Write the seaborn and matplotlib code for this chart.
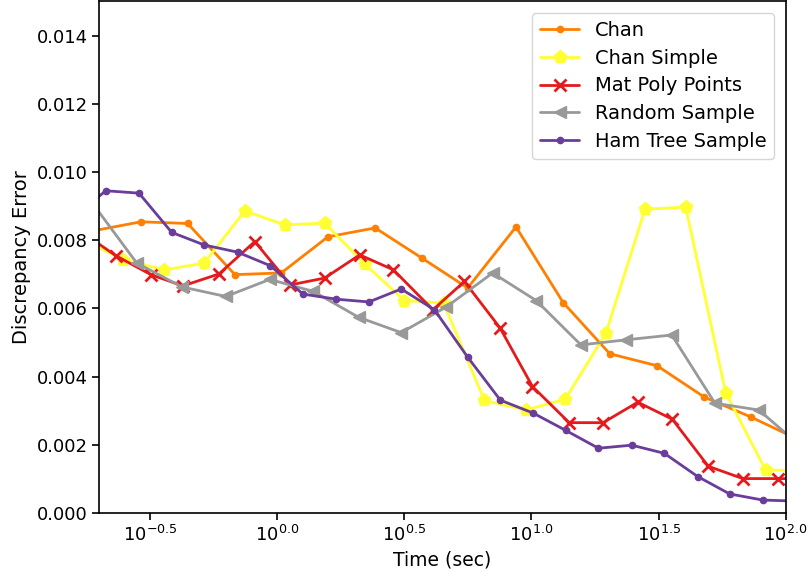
import numpy as np
import pandas as pd
import matplotlib
matplotlib.use("Agg")
import matplotlib.pyplot as plt
import seaborn as sns

# ---- data ----
chan_x = [0.190, 0.2907, 0.4436, 0.6808, 1.036, 1.581, 2.427, 3.698, 5.610, 8.690,
          13.33, 20.33, 31.19, 47.86, 72.78, 111.2]
chan_y = [0.00828, 0.00854, 0.00849, 0.00699, 0.00704, 0.00810, 0.00836, 0.00748, 0.00660, 0.00839,
          0.00617, 0.00467, 0.00432, 0.00340, 0.00282, 0.00217]

simple_x = [0.172, 0.248, 0.359, 0.515, 0.745, 1.069, 1.535, 2.203, 3.162, 4.508,
            6.531, 9.506, 13.58, 19.63, 27.99, 40.45, 58.07, 83.39, 120.0]
simple_y = [0.00801, 0.00743, 0.00713, 0.00733, 0.00886, 0.00845, 0.00850, 0.00731, 0.00623, 0.00616,
            0.00330, 0.00302, 0.00334, 0.00527, 0.00891, 0.00897, 0.00353, 0.00126, 0.00124]

mat_x = [0.169, 0.231, 0.318, 0.425, 0.589, 0.815, 1.126, 1.535, 2.109, 2.864,
         4.093, 5.445, 7.516, 10.09, 14.07, 19.14, 26.20, 35.83, 49.63, 67.89, 93.48, 127.9]
mat_y = [0.00825, 0.00755, 0.00699, 0.00666, 0.00701, 0.00796, 0.00669, 0.00689, 0.00757, 0.00713,
         0.00596, 0.00679, 0.00543, 0.00371, 0.00265, 0.00265, 0.00325, 0.00275, 0.00137, 0.00101,
         0.00101, 0.00100]

rand_x = [0.1866, 0.2797, 0.4211, 0.6270, 0.9336, 1.384, 2.088, 3.072, 4.616, 7.035,
          10.44, 15.65, 23.63, 35.64, 52.72, 78.49, 117.9]
rand_y = [0.00910, 0.00733, 0.00663, 0.00635, 0.00685, 0.00650, 0.00574, 0.00529, 0.00604, 0.00704,
          0.00623, 0.00493, 0.00508, 0.00522, 0.00322, 0.00302, 0.00188]

ham_x = [0.1572, 0.2113, 0.2855, 0.3838, 0.5154, 0.6970, 0.9395, 1.261, 1.707, 2.292,
         3.072, 4.151, 5.610, 7.543, 10.16, 13.66, 18.34, 24.82, 33.33, 45.08,
         60.22, 81.36, 109.7]
ham_y = [0.00866, 0.00945, 0.00938, 0.00823, 0.00786, 0.00765, 0.00725, 0.00642, 0.00627, 0.00619,
         0.00657, 0.00596, 0.00457, 0.00331, 0.00293, 0.00242, 0.00190, 0.00199, 0.00175, 0.00107,
         0.00056, 0.00038, 0.00035]

x_tick_exps = [-0.5, 0.0, 0.5, 1.0, 1.5, 2.0]
y_ticks = [0.000, 0.002, 0.004, 0.006, 0.008, 0.010, 0.012, 0.014]

series = [
    ("Chan", chan_x, chan_y, "#ff7f00", "o", 4.5),
    ("Chan Simple", simple_x, simple_y, "#ffff33", "p", 9.5),
    ("Mat Poly Points", mat_x, mat_y, "#e41a1c", "x", 8),
    ("Random Sample", rand_x, rand_y, "#999999", "<", 8),
    ("Ham Tree Sample", ham_x, ham_y, "#6a3d9a", "o", 4.5),
]

sns.set_style("ticks", rc={
    "axes.edgecolor": "black", "axes.labelcolor": "black", "text.color": "black",
    "xtick.color": "black", "ytick.color": "black",
})
plt.rcParams['font.family'] = ['DejaVu Sans']
plt.rcParams['font.size'] = 13

fig = plt.figure(figsize=(8.08, 5.72), dpi=100)
ax = fig.add_axes([0.1231, 0.1031, 0.9723 - 0.1231, 0.9974 - 0.1031])

for name, xs, ys, col, mk, ms in series:
    df = pd.DataFrame({"x": xs, "y": ys})
    sns.lineplot(data=df, x="x", y="y", ax=ax, color=col, marker=mk,
                 markersize=ms, markeredgecolor=col, markeredgewidth=2 if mk == "x" else 1,
                 linewidth=2.0, label=name, estimator=None, sort=False)

ax.set_xscale("log")
ax.set_xlim(10 ** -0.7, 100)
ax.set_ylim(0, 0.015)
ax.set_xticks([10 ** e for e in x_tick_exps])
ax.set_xticklabels([r"$10^{%.1f}$" % e for e in x_tick_exps])
ax.xaxis.set_minor_locator(matplotlib.ticker.NullLocator())
ax.set_yticks(y_ticks)
ax.set_yticklabels(["%.3f" % v for v in y_ticks])
ax.tick_params(labelsize=13, length=5, width=1.2, colors="black")
for s in ax.spines.values():
    s.set_linewidth(1.2)
    s.set_color("black")
    s.set_visible(True)
ax.set_xlabel("Time (sec)", fontsize=13.5)
ax.set_ylabel("Discrepancy Error", fontsize=14)
leg = ax.legend(loc="upper right", fontsize=14, frameon=True, labelspacing=0.45,
                borderaxespad=0.6)
for t in leg.get_texts():
    t.set_color("black")

fig.savefig("out.png", dpi=100)
